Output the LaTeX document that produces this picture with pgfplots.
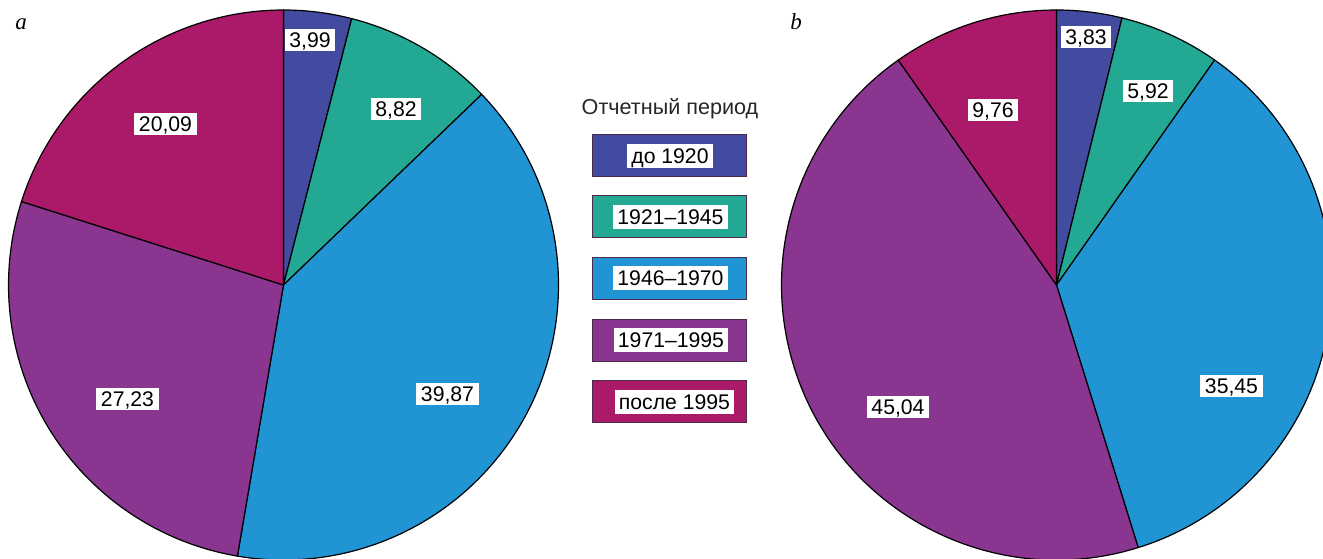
\documentclass[border=0pt]{standalone}
\usepackage{fontspec}
\setmainfont{Liberation Sans}
\newfontfamily\serifit{Liberation Serif}
\usepackage{pgfplots}
\usepackage{pgfplotstable}
\pgfplotsset{compat=1.18}

\definecolor{cA}{HTML}{434BA0}
\definecolor{cB}{HTML}{22A893}
\definecolor{cC}{HTML}{2194D3}
\definecolor{cD}{HTML}{8A3590}
\definecolor{cE}{HTML}{AA1A68}
\definecolor{legborder}{HTML}{4A2A4A}

% pie a: value, label position (px), colour
\pgfplotstableread{
val   lx     ly     col
3.99  310    40     cA
8.82  396    109    cB
39.87 447.5  393.5  cC
27.23 127.5  398.5  cD
20.09 165.5  124    cE
}\tabA
% pie b
\pgfplotstableread{
val   lx     ly     col
3.83  1086   36.5   cA
5.92  1148   91     cB
35.45 1231.5 386    cC
45.04 898    407    cD
9.76  993    110    cE
}\tabB

\def\R{137.5pt}

\newcommand\drawpie[3]{%
  \pgfplotstablegetrowsof{#1}%
  \pgfmathtruncatemacro\nlast{\pgfplotsretval-1}%
  \gdef\cum{0}%
  \foreach \i in {0,...,\nlast}{%
    \pgfplotstablegetelem{\i}{val}\of{#1}\let\sval\pgfplotsretval
    \pgfplotstablegetelem{\i}{col}\of{#1}\let\slicecol\pgfplotsretval
    \pgfmathsetmacro\aS{90-3.6*\cum}%
    \pgfmathsetmacro\newcum{\cum+\sval}%
    \xdef\cum{\newcum}%
    \pgfmathsetmacro\aE{90-3.6*\cum}%
    \edef\tmp{\noexpand\filldraw[fill=\slicecol, draw=black, line width=0.6pt, line join=round]
      (axis cs:#2,#3) -- ++(\aS:\R) arc[start angle=\aS, end angle=\aE, radius=\R] -- cycle;}%
    \tmp
  }%
  \foreach \i in {0,...,\nlast}{%
    \pgfplotstablegetelem{\i}{val}\of{#1}\let\sval\pgfplotsretval
    \pgfplotstablegetelem{\i}{lx}\of{#1}\let\lx\pgfplotsretval
    \pgfplotstablegetelem{\i}{ly}\of{#1}\let\ly\pgfplotsretval
    \edef\tmp{\noexpand\node[lbl] at (axis cs:\lx,\ly)
      {\noexpand\pgfmathprintnumber[assume math mode=true,use comma,fixed,fixed zerofill,precision=2]{\sval}};}%
    \tmp
  }%
}

\tikzset{
  lbl/.style={fill=white, inner xsep=2.3pt, inner ysep=0pt, minimum height=11pt,
    text height=7.6pt, text depth=0pt, font=\fontsize{10.6}{12}\selectfont},
  legbox/.style={draw=legborder, line width=0.5pt, minimum width=77pt, minimum height=21pt, inner sep=0pt},
  legtxt/.style={fill=white, inner xsep=2.2pt, inner ysep=0pt, minimum height=12pt,
    text height=7.6pt, text depth=0pt, font=\fontsize{10.6}{12}\selectfont},
}

\begin{document}
\begin{tikzpicture}
\useasboundingbox (0,0) rectangle (661.5pt,279pt);
\clip (0,0) rectangle (661.5pt,279pt);
\begin{axis}[
  at={(0,0)}, anchor=south west,
  scale only axis, width=661.5pt, height=279pt,
  xmin=0, xmax=1323, ymin=0, ymax=558, y dir=reverse,
  hide axis, clip=false,
]
\drawpie{\tabA}{283.5}{285}
\drawpie{\tabB}{1056.5}{285}

% panel letters
\node[anchor=base west, inner sep=0pt, font=\serifit\itshape\fontsize{11.5}{12}\selectfont] at (axis cs:15,29) {a};
\node[anchor=base west, inner sep=0pt, font=\serifit\itshape\fontsize{11.5}{12}\selectfont] at (axis cs:790,29) {b};

% legend
\node[anchor=base, inner sep=0pt, font=\fontsize{10.8}{12}\selectfont, text=black!85] at (axis cs:670,114.5) {Отчетный период};
\node[legbox, fill=cA] at (axis cs:669,155) {};
\node[legtxt] at (axis cs:670,155.5) {до 1920};
\node[legbox, fill=cB] at (axis cs:669,216.5) {};
\node[legtxt] at (axis cs:670.5,216.5) {1921–1945};
\node[legbox, fill=cC] at (axis cs:669,278) {};
\node[legtxt] at (axis cs:670.5,278) {1946–1970};
\node[legbox, fill=cD] at (axis cs:669,340) {};
\node[legtxt] at (axis cs:671,340) {1971–1995};
\node[legbox, fill=cE] at (axis cs:669,401.5) {};
\node[legtxt] at (axis cs:674.5,401.5) {после 1995};
\end{axis}
\end{tikzpicture}
\end{document}
